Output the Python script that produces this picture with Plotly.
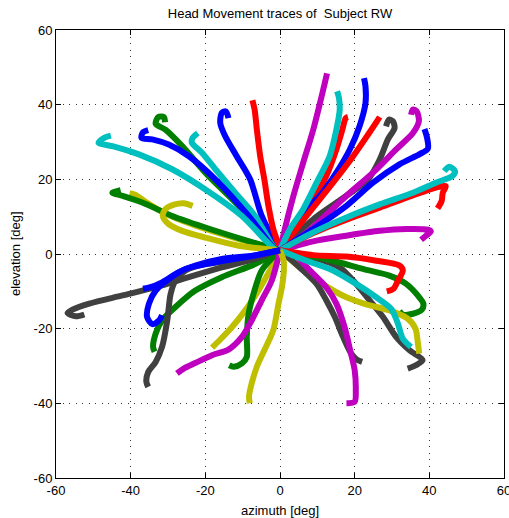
import plotly.graph_objects as go

# Each color group: list of (azimuth list, elevation list) traces, in degrees
blue_az = [
    [0, -1.3, -4.9, -8, -11.6, -14.7, -16, -15.6, -14.5, -13.8],
    [0, -1.3, -8.4, -17.3, -24.4, -29.8, -34.2, -37.1, -36.7, -35.3],
    [0, 2, 5.3, 10.7, 15.1, 18.7, 21.3, 22.9, 22.9, 22.5],
    [0, 8.9, 17.8, 24.9, 32, 37.3, 39.6, 39.4, 38.7],
    [0, -6.7, -15.6, -22.7, -27.1, -31.6, -34.7, -36.7],
    [0, -6.7, -17.3, -25.3, -29.8, -33.3, -35.1, -35.6, -34.2, -32.4, -31.6],
]
blue_el = [
    [1, 3.1, 10.2, 20, 26.2, 31.6, 35.1, 37.8, 38.2, 36.4],
    [1, 1.3, 10.2, 20, 26.2, 29.3, 30.7, 31.1, 32.6, 33.2],
    [1, 3, 10.2, 15.6, 21.8, 28, 34.2, 40.4, 44.9, 47.1],
    [1, 6.7, 12.9, 19.1, 24, 26.7, 28.2, 31.1, 33.5],
    [1, -0.4, -1.3, -3.1, -4.9, -7.6, -8.9, -9.3],
    [1, -0.4, -2.2, -4, -6.7, -9.8, -13.3, -16.9, -18.8, -17.8, -16.4],
]
green_az = [
    [0, -1, -10.2, -20, -26.2, -30.7, -33.3, -32.6, -31.1, -30.8],
    [0, -10.2, -20, -28.9, -36.9, -42.2, -44.9, -42.7],
    [0, 13.3, 22.2, 29.3, 33.8, 36.9, 38.4, 38, 35.6, 32.9, 32],
    [0, -6.7, -15.6, -22.7, -28, -31.6, -33.3, -34, -33.6],
    [0, -4.9, -7.1, -8.4, -8.9, -8.9, -10.2, -12.4, -13.6],
]
green_el = [
    [1, 1.3, 12, 21.8, 28.9, 33.3, 34.9, 36.7, 36.7, 35.3],
    [1, 4, 7.1, 10.2, 13.8, 15.6, 16.4, 17.1],
    [1, -1.6, -4, -5.8, -8, -11.1, -13.3, -14.9, -16, -16.2, -15.3],
    [1, -2.7, -6.2, -9.8, -14.2, -17.8, -21.3, -24.9, -26.2],
    [1, -4.4, -10.7, -16, -22.2, -27.6, -29.3, -30.2, -29.8],
]
red_az = [
    [0, 0, -1.8, -3.1, -4.2, -5.3, -6.2, -6.8, -7.4],
    [0, 3.6, 8, 12.4, 15.1, 16.7, 17.6, 18.2],
    [0, 7.1, 14.2, 19.6, 23.6, 26, 26.7],
    [0, 8.9, 17.8, 26.7, 35.6, 41.8, 44.4, 43.6, 43.3, 42.2],
    [0, 8.9, 17.8, 25.8, 32, 32.9, 31.6, 30.4, 28.6],
]
red_el = [
    [1, 1.3, 6.7, 12.9, 20, 26.2, 33.3, 38.7, 41.2],
    [1, 6.7, 12.9, 20.9, 28, 33.3, 36.4, 36.7],
    [1, 10.2, 19.1, 26.2, 32, 35.6, 36.7],
    [1, 5.6, 9.2, 12.4, 15.7, 17.8, 18.2, 16.4, 14.2, 12.2],
    [1, -0.3, -0.7, -1.8, -3.1, -4.4, -7.1, -9.3, -10],
]
cyan_az = [
    [0, -1, -6.7, -12, -17.3, -20.9, -23.6, -23.4, -22],
    [0, -1, -10.2, -20, -28.9, -37.8, -44.9, -48.6, -47.1, -45.3],
    [0, 2.7, 6.2, 9.8, 13.3, 15.1, 16, 15.8, 15.3],
    [0, 8.9, 17.8, 26.7, 35.6, 41.8, 46.2, 46.9, 45.3, 44],
    [0, 7.1, 14.2, 20.4, 25.8, 29.8, 31.6, 32.9, 35.1],
]
cyan_el = [
    [1, 1, 10.2, 16.4, 22.7, 27.1, 29.8, 31.1, 32.4],
    [1, 1, 10.2, 17.3, 22.7, 26.7, 28.9, 29.8, 31.1, 31.7],
    [1, 6.7, 12, 19.1, 26.2, 33.3, 38.7, 41.8, 43.6],
    [1, 5.8, 9.8, 13.3, 16.4, 19.1, 20.9, 22.2, 23.4, 22.2],
    [1, -1.8, -4.4, -8, -11.6, -14.7, -18.7, -22.7, -24.9],
]
magenta_az = [
    [0, 1.3, 3.6, 6.2, 8.9, 10.7, 12, 12.6],
    [0, 8, 17.8, 24.9, 31.1, 35.6, 37.2, 36.6, 35.6, 35.1],
    [0, 8.9, 17.8, 26.7, 33.8, 39.6, 40.4, 39.1, 37.8],
    [0, 3.6, 8, 12.4, 15.1, 17.3, 18.8, 20, 20.3, 20, 17.8],
    [0, -2.2, -4.9, -7.6, -10.2, -13.8, -18.2, -22.7, -25.8, -27.6],
]
magenta_el = [
    [1, 6.7, 15.6, 24.4, 33.3, 40.4, 45.8, 48.4],
    [1, 6.5, 15.6, 21.8, 28, 32.4, 35.6, 38.2, 38.7, 37.3],
    [1, 3.4, 4.9, 6.2, 6.7, 6.5, 6, 4.9, 3.8],
    [1, 0, -4.4, -8.9, -13.3, -19.6, -25.8, -31.1, -36.4, -39.6, -40],
    [1, -7.1, -12.4, -17.8, -22.2, -25.6, -27.1, -29.2, -30.7, -32],
]
yellow_az = [
    [0, -11.1, -20, -26.2, -31.6, -36, -38.7, -40.3],
    [0, -11.1, -20, -26.2, -29.8, -31.4, -30.7, -28.4, -25.8, -23.4],
    [0, 5.3, 10.7, 17.8, 23.1, 29.3, 34.2, 36.3, 36.9, 37.3],
    [0, -2.7, -5.8, -9.3, -12.9, -16, -18.2],
    [0, 1, 1, 0.5, -0.4, -1.8, -4.2, -6.2, -7.6, -8.3, -8.1],
]
yellow_el = [
    [1, 4, 6.7, 8.9, 11.3, 14, 15.8, 16.3],
    [1, 2.2, 4.4, 6.2, 8, 10.2, 12, 13.2, 13.6, 12.9],
    [1, -3.6, -7.6, -11.6, -13.5, -15.1, -17.3, -20, -23.6, -26.7],
    [1, -4.4, -9.8, -15.1, -19.6, -22.9, -25.1],
    [1, -2, -5, -9, -13.3, -20.4, -25.8, -30.2, -34.7, -38.2, -40],
]
gray_az = [
    [0, 8.9, 17.8, 23.6, 26.7, 28.9, 30.7, 30.2, 29.2, 28.4],
    [0, 8.9, 16, 20.4, 24, 27.6, 31.1, 34.7, 38.2, 36.4, 34.2],
    [0, 5.3, 9.8, 12.4, 14.7, 16.9, 19.1, 20.6, 22],
    [0, -6.7, -15.6, -24.4, -33.3, -42.2, -51.1, -55.6, -56.9, -54.7, -52.4],
    [0, -11.1, -20, -25.3, -28, -29.3, -30.2, -31.6, -33.3, -35.3, -35.8, -35.3],
]
gray_el = [
    [1, 9.3, 15.6, 20, 25.3, 30.7, 33.8, 35.6, 36, 34.2],
    [1, -0.9, -3.6, -8, -12.4, -16.9, -22.2, -25.8, -28.4, -29.8, -30.7],
    [1, -3.6, -8, -12.4, -16.9, -22.2, -26.7, -28.3, -28.9],
    [1, -1.3, -3.6, -6.2, -8.9, -11.1, -13.3, -14.9, -15.8, -16.7, -16.2],
    [1, -1.6, -2.7, -4.4, -7.1, -10.7, -17.8, -24.9, -28.9, -31.6, -34.2, -35.6],
]

ticks = [-60, -40, -20, 0, 20, 40, 60]

groups = [
    ("#0000ff", blue_az, blue_el),
    ("#007f00", green_az, green_el),
    ("#ff0000", red_az, red_el),
    ("#00bfbf", cyan_az, cyan_el),
    ("#bf00bf", magenta_az, magenta_el),
    ("#bfbf00", yellow_az, yellow_el),
    ("#404040", gray_az, gray_el),
]

fig = go.Figure()
maxn = max(len(g[1]) for g in groups)
for i in range(maxn):
    for color, azs, els in groups:
        if i < len(azs):
            fig.add_trace(go.Scatter(
                x=azs[i], y=els[i], mode="lines",
                line=dict(color=color, width=6, shape="spline", smoothing=0.8),
                showlegend=False, hoverinfo="skip"))

fam = "Liberation Sans, Arial, sans-serif"
axis_common = dict(
    range=[-60, 60], tickvals=ticks, ticktext=[str(t) for t in ticks],
    ticks="inside", ticklen=5, tickcolor="black",
    showline=True, linecolor="black", linewidth=1, mirror="ticks",
    showgrid=True, gridcolor="#333333", griddash="1px,5.5px", gridwidth=1,
    zeroline=False, automargin=False, ticklabeloverflow="allow",
    tickfont=dict(family=fam, size=13, color="black"),
)
fig.update_layout(
    width=509, height=518,
    margin=dict(l=56, r=5, t=30, b=40, autoexpand=False),
    paper_bgcolor="white", plot_bgcolor="white",
    font=dict(family=fam, size=12, color="black"),
    title=dict(text="Head Movement traces of  Subject RW", x=0.5, xref="paper",
               y=1 - 13 / 518, yanchor="middle", font=dict(size=13)),
    xaxis=dict(axis_common),
    yaxis=dict(axis_common),
    annotations=[
        dict(text="azimuth [deg]", xref="paper", yref="paper", x=0.5,
             y=-32 / 448, xanchor="center", yanchor="middle", showarrow=False,
             font=dict(size=13)),
        dict(text="elevation [deg]", xref="paper", yref="paper", x=-41 / 448,
             y=0.5, xanchor="center", yanchor="middle", showarrow=False,
             textangle=-90, font=dict(size=13)),
    ],
)
fig.write_html("out.html", config={"displayModeBar": False},
               post_script="document.body.style.margin='0';document.body.style.overflow='hidden';")
